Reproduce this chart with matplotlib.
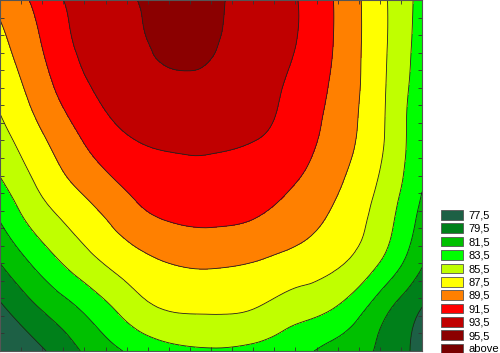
import numpy as np
import matplotlib
matplotlib.use("Agg")
import matplotlib.pyplot as plt
import matplotlib.tri as mtri
from matplotlib.patches import Patch
from matplotlib.ticker import MultipleLocator

# surface values, rows from top to bottom, 11 columns left to right
row_0 = [88.0, 90.25, 92.4, 93.2, 94.4, 93.9, 92.75, 91.6, 89.2, 86.1, 82.8]
row_1 = [87.0, 89.56, 92.0, 92.95, 93.98, 93.7, 92.63, 91.53, 89.2, 86.1, 82.6]
row_2 = [86.1, 88.7, 91.2, 92.5, 93.05, 92.99, 92.35, 91.0, 88.97, 86.0, 82.3]
row_3 = [85.0, 87.5, 89.9, 91.58, 92.04, 92.06, 91.75, 90.6, 88.6, 85.9, 81.9]
row_4 = [83.55, 86.2, 88.4, 90.04, 90.9, 91.0, 90.6, 89.71, 87.9, 85.42, 81.75]
row_5 = [81.6, 84.6, 86.5, 88.45, 89.6, 89.85, 89.5, 88.49, 87.0, 84.67, 80.9]
row_6 = [79.5, 82.3, 84.67, 86.4, 87.5, 87.75, 87.45, 86.7, 85.75, 83.45, 79.7]
row_7 = [77.2, 79.7, 81.9, 84.3, 85.7, 85.85, 85.6, 84.5, 83.4, 80.47, 77.5]
row_8 = [75.0, 77.28, 79.73, 81.66, 82.9, 83.3, 83.0, 82.12, 80.66, 79.2, 76.8]

level_bounds = [77.5, 79.5, 81.5, 83.5, 85.5, 87.5, 89.5, 91.5, 93.5, 95.5]
legend_labels = ["77,5", "79,5", "81,5", "83,5", "85,5", "87,5",
                 "89,5", "91,5", "93,5", "95,5", "above"]
band_colors = ["#1d6045", "#00801a", "#00c000", "#00ff00", "#c0ff00", "#ffff00",
               "#ff8000", "#ff0000", "#c00000", "#8b0000", "#780000"]

z = np.array([row_0, row_1, row_2, row_3, row_4, row_5, row_6, row_7, row_8])
x = np.linspace(0, 1, z.shape[1])
y = np.linspace(1, 0, z.shape[0])
X, Y = np.meshgrid(x, y)

# smooth the contours with matplotlib's own triangulation refiner
tri = mtri.Triangulation(X.ravel(), Y.ravel())
refiner = mtri.UniformTriRefiner(tri)
interp = mtri.CubicTriInterpolator(tri, z.ravel(), kind="min_E")
tri_f, z_f = refiner.refine_field(z.ravel(), triinterpolator=interp, subdiv=3)

plt.rcParams["font.family"] = ["Liberation Sans", "DejaVu Sans"]
fig = plt.figure(figsize=(5.0, 3.53), dpi=100)
ax = fig.add_axes([0.0, 2 / 353, 422 / 500, 351 / 353])

levels = [60] + level_bounds + [120]
ax.tricontourf(tri_f, z_f, levels=levels, colors=band_colors)
ax.tricontour(tri_f, z_f, levels=level_bounds, colors="#202020", linewidths=0.6)

ax.set_xlim(0, 1)
ax.set_ylim(0, 1)
ax.xaxis.set_major_locator(MultipleLocator(0.05))
ax.yaxis.set_major_locator(MultipleLocator(0.05))
ax.tick_params(direction="in", length=3, width=0.6, color="#333333",
               top=True, right=True, labelbottom=False, labelleft=False)
for s in ax.spines.values():
    s.set_color("#555555")
    s.set_linewidth(0.8)

handles = [Patch(facecolor=c, edgecolor="#555555", linewidth=0.6) for c in band_colors]
fig.legend(handles, legend_labels, loc="upper left",
           bbox_to_anchor=(441 / 500, 1 - 210 / 353), frameon=False,
           fontsize=8, handlelength=2.0, handleheight=0.95,
           labelspacing=0.25, handletextpad=0.5, borderpad=0, borderaxespad=0)

fig.savefig("out.png", dpi=100)
plt.close(fig)
